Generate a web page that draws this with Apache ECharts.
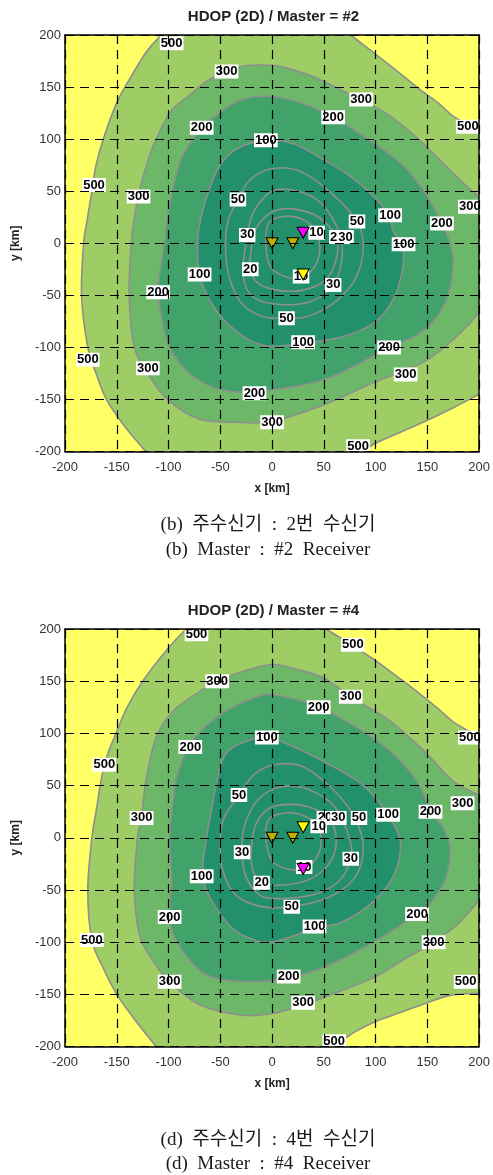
<!DOCTYPE html>
<html><head><meta charset="utf-8">
<script src="https://cdn.jsdelivr.net/npm/echarts@6/dist/echarts.min.js"></script>
<style>html,body{margin:0;padding:0;background:#fff}#c{width:493px;height:1175px}</style>
</head><body><div id="c"></div>
<script>
// ---------------- data ----------------
const axisMin = -200, axisMax = 200, axisStep = 50;
const titles = ['HDOP (2D) / Master = #2', 'HDOP (2D) / Master = #4'];
const captionsKo = ['(b)  주수신기  :  2번  수신기', '(d)  주수신기  :  4번  수신기'];
const captionsEn = ['(b)  Master  :  #2  Receiver', '(d)  Master  :  #4  Receiver'];

// ---- panel (b): Master = #2 ----  contour paths in km
const m2_500_tl = [[-107,200],[-122,183],[-138,157],[-150,135],[-163,100],[-170,75],[-174,50],[-179,20],[-182,0],[-184,-50],[-178,-100],[-170,-125],[-160,-150],[-143,-175],[-122,-200]];
const m2_500_tr = [[76,200],[98,183],[120,166],[141,149],[160,135],[175,122],[190,113],[200,107]];
const m2_500_br = [[200,-145],[175,-158],[150,-170],[125,-181],[100,-192],[88,-200]];
const m2_300 = [[200,45],[190,53],[169,73],[150,92],[131,109],[110,125],[86,138],[67,147],[40,160],[15,168],[0,171],[-29,170],[-45,164],[-61,157],[-80,142],[-99,125],[-115,93],[-122,72],[-128,51],[-133,25],[-136,0],[-138,-50],[-133,-100],[-120,-125],[-101,-150],[-70,-169],[-29,-172],[0,-171],[50,-155],[100,-133],[129,-122],[150,-112],[170,-97],[188,-80],[200,-66]];
const m2_200 = [[0,141],[-29,138],[-51,125],[-67,111],[-87,83],[-96,51],[-101,25],[-104,0],[-108,-25],[-110,-47],[-106,-75],[-99,-100],[-80,-125],[-55,-139],[-29,-143],[0,-141],[50,-131],[85,-115],[113,-100],[140,-88],[158,-72],[170,-50],[175,-20],[172,0],[164,19],[150,45],[131,70],[110,88],[85,105],[59,121],[30,134]];
const m2_100 = [[-6,99],[-35,90],[-51,74],[-61,51],[-69,23],[-72,0],[-70,-30],[-60,-55],[-45,-75],[-22,-93],[0,-99],[30,-96],[67,-90],[98,-77],[117,-54],[126,-25],[126,-3],[117,12],[113,27],[98,45],[76,64],[50,80],[22,95]];
const m2_50 = [[-45,0],[-42,23],[-33,42],[-22,60],[-3,71],[25,70],[55,50],[82,21],[88,-5],[80,-35],[60,-57],[35,-70],[14,-72],[-10,-70],[-30,-57],[-42,-30]];
const m2_30 = [[-24,7],[-18,30],[0,50],[25,50],[48,38],[66,8],[67,-18],[59,-40],[40,-55],[10,-59],[-18,-52],[-28,-30]];
const m2_20 = [[-20,-5],[-15,15],[0,30],[20,33],[45,25],[62,6],[62,-15],[52,-35],[30,-45],[5,-45],[-14,-38],[-21,-25]];
const m2_10 = [[-6,0],[-3,20],[15,26],[33,21],[43,10],[46,-8],[40,-24],[28,-33],[12,-32],[-2,-22]];
const m2_labels = [['500',-97,192],['300',-44,165],['200',-68,111],['100',-6,99],['300',86,138],['200',59,121],['500',189,112],
  ['500',-172,56],['300',-129,45],['50',-33,42],['30',-24,8],['10',43,10],['20',63,6],['30',71,6],['50',82,21],['100',114,27],
  ['200',164,19],['300',191,35],['100',127,-1],['100',-70,-30],['20',-21,-25],['10',28,-32],['30',59,-40],['200',-110,-47],
  ['50',14,-72],['100',30,-95],['200',113,-100],['500',-178,-112],['300',-120,-120],['300',129,-126],['200',-17,-144],
  ['300',0,-172],['500',83,-195]];
const m2_rxOlive = [[0,0],[20,0]];
const m2_rxYellow = [[30,-30]];
const m2_rxMaster = [[30,10]];

// ---- panel (d): Master = #4 ----
const m4_500_tl = [[-83,200],[-100,182],[-125,150],[-140,125],[-150,102],[-162,70],[-170,25],[-174,0],[-178,-50],[-174,-98],[-163,-125],[-150,-150],[-132,-175],[-112,-200]];
const m4_500_tr = [[52,200],[75,186],[98,171],[120,155],[140,140],[160,124],[175,111],[190,102],[200,96]];
const m4_500_br = [[200,-149],[172,-151],[150,-158],[125,-167],[100,-176],[80,-186],[60,-200]];
const m4_300 = [[200,41],[175,54],[150,80],[115,111],[76,135],[50,153],[25,161],[2,166],[-23,161],[-53,150],[-70,140],[-96,121],[-112,96],[-122,54],[-126,19],[-130,0],[-133,-50],[-128,-93],[-115,-118],[-99,-138],[-70,-160],[-29,-170],[2,-168],[30,-160],[50,-153],[98,-134],[130,-115],[156,-100],[179,-83],[200,-60]];
const m4_200 = [[2,137],[-23,132],[-54,115],[-79,90],[-90,65],[-94,48],[-99,0],[-97,-40],[-99,-76],[-90,-103],[-64,-131],[-22,-138],[16,-134],[50,-124],[98,-100],[140,-73],[155,-60],[168,-38],[172,-10],[165,10],[153,25],[140,54],[115,82],[83,105],[45,125]];
const m4_100 = [[-5,96],[-29,91],[-45,80],[-52,60],[-58,30],[-64,-4],[-67,-37],[-58,-61],[-39,-86],[-22,-96],[0,-100],[41,-87],[67,-81],[98,-61],[118,-35],[124,-5],[115,17],[100,38],[83,54],[50,73],[19,88]];
const m4_50 = [[-50,0],[-46,20],[-32,41],[-18,60],[2,70],[30,68],[60,45],[80,19],[88,-10],[80,-38],[55,-57],[19,-66],[-10,-66],[-35,-55],[-48,-30]];
const m4_30 = [[-29,-14],[-27,10],[-15,35],[5,48],[30,48],[55,35],[67,19],[76,-5],[76,-20],[66,-40],[45,-53],[15,-58],[-10,-56],[-25,-38]];
const m4_20 = [[-20,-10],[-16,12],[-3,28],[18,32],[40,28],[55,18],[62,0],[57,-22],[40,-38],[15,-45],[-10,-43],[-19,-30]];
const m4_10 = [[-6,0],[-3,18],[15,24],[33,20],[45,11],[47,-8],[41,-22],[31,-30],[15,-30],[0,-22]];
const m4_labels = [['500',-73,195],['500',78,185],['300',-53,150],['300',76,135],['200',45,125],['200',-79,87],['100',-5,96],
  ['500',-162,70],['500',191,96],['50',-32,41],['300',-126,19],['20',51,19],['30',64,19],['50',84,19],['100',112,22],
  ['200',153,25],['300',184,33],['10',45,11],['30',-29,-14],['20',-10,-43],['100',-68,-37],['10',31,-28],['30',76,-20],
  ['50',19,-66],['100',41,-85],['200',-99,-76],['500',-174,-98],['200',140,-73],['300',156,-100],['200',16,-133],
  ['300',-99,-138],['500',187,-138],['300',30,-158],['500',60,-195]];
const m4_rxOlive = [[0,0],[20,0]];
const m4_rxYellow = [[30,10]];
const m4_rxMaster = [[30,-30]];

// ---------------- styling / layout ----------------
const C = {yellow:'#FFFF66', light:'#9DCD64', mid:'#6CB868', dark:'#41A26A', darkest:'#21906B', line:'#8E8E8E'};
const grids = [{left:65, top:35, width:417, height:416.5}, {left:65, top:629, width:417, height:417.5}];

const panels = [
  {fills:[{c:m2_500_tl, corners:[[axisMin,axisMin],[axisMin,axisMax]], col:C.yellow},
          {c:m2_500_tr, corners:[[axisMax,axisMax]], col:C.yellow},
          {c:m2_500_br, corners:[[axisMax,axisMin]], col:C.yellow},
          {c:m2_300, corners:[], col:C.mid},
          {c:m2_200, closed:true, col:C.dark},
          {c:m2_100, closed:true, col:C.darkest}],
   rings:[m2_50,m2_30,m2_20,m2_10], labels:m2_labels, olive:m2_rxOlive, yel:m2_rxYellow, master:m2_rxMaster},
  {fills:[{c:m4_500_tl, corners:[[axisMin,axisMin],[axisMin,axisMax]], col:C.yellow},
          {c:m4_500_tr, corners:[[axisMax,axisMax]], col:C.yellow},
          {c:m4_500_br, corners:[[axisMax,axisMin]], col:C.yellow},
          {c:m4_300, corners:[], col:C.mid},
          {c:m4_200, closed:true, col:C.dark},
          {c:m4_100, closed:true, col:C.darkest}],
   rings:[m4_50,m4_30,m4_20,m4_10], labels:m4_labels, olive:m4_rxOlive, yel:m4_rxYellow, master:m4_rxMaster}
];

function crPath(pts, closed) {
  const n = pts.length;
  let d = 'M' + pts[0][0] + ',' + pts[0][1];
  const segs = closed ? n : n - 1;
  for (let i = 0; i < segs; i++) {
    const p0 = pts[closed ? (i - 1 + n) % n : Math.max(i - 1, 0)];
    const p1 = pts[i], p2 = pts[(i + 1) % n];
    const p3 = pts[closed ? (i + 2) % n : Math.min(i + 2, n - 1)];
    const c1 = [p1[0] + (p2[0] - p0[0]) / 6, p1[1] + (p2[1] - p0[1]) / 6];
    const c2 = [p2[0] - (p3[0] - p1[0]) / 6, p2[1] - (p3[1] - p1[1]) / 6];
    d += ' C' + c1[0] + ',' + c1[1] + ' ' + c2[0] + ',' + c2[1] + ' ' + p2[0] + ',' + p2[1];
  }
  if (closed) d += ' Z';
  return d;
}

const xAxes = [], yAxes = [], series = [], graphics = [];
const tickFont = 'Liberation Sans';
panels.forEach((p, gi) => {
  const common = {gridIndex:gi, type:'value', min:axisMin, max:axisMax, interval:axisStep, z:10};
  xAxes.push(Object.assign({}, common, {position:'bottom',
    axisLine:{show:true, onZero:false, lineStyle:{color:'#000', width:1.5}}, axisTick:{show:false},
    axisLabel:{fontSize:13, color:'#333', margin:9, fontFamily:tickFont},
    splitLine:{show:true, lineStyle:{color:'#000', width:1.2, type:[9,6]}},
    name:'x [km]', nameLocation:'middle', nameGap:31,
    nameTextStyle:{fontSize:12, fontWeight:'bold', color:'#222', fontFamily:tickFont}}));
  xAxes.push(Object.assign({}, common, {position:'top',
    axisLine:{show:true, onZero:false, lineStyle:{color:'#000', width:1.5}}, axisTick:{show:false},
    axisLabel:{show:false}, splitLine:{show:false}}));
  yAxes.push(Object.assign({}, common, {position:'left',
    axisLine:{show:true, onZero:false, lineStyle:{color:'#000', width:1.5}}, axisTick:{show:false},
    axisLabel:{fontSize:13, color:'#333', margin:4, fontFamily:tickFont},
    splitLine:{show:true, lineStyle:{color:'#000', width:1.2, type:[9,6]}},
    name:'y [km]', nameLocation:'middle', nameGap:43, nameRotate:90,
    nameTextStyle:{fontSize:12, fontWeight:'bold', color:'#222', fontFamily:tickFont}}));
  yAxes.push(Object.assign({}, common, {position:'right',
    axisLine:{show:true, onZero:false, lineStyle:{color:'#000', width:1.5}}, axisTick:{show:false},
    axisLabel:{show:false}, splitLine:{show:false}}));
  const xi = gi * 2, yi = gi * 2;

  // filled contour bands
  series.push({type:'custom', xAxisIndex:xi, yAxisIndex:yi, clip:true, z:1, silent:true,
    data:p.fills.map((f, i) => [0, 0, i]),
    renderItem:(params, api) => {
      const f = p.fills[params.dataIndex];
      const px = f.c.map(q => api.coord(q));
      const curve = crPath(px, !!f.closed);
      let fillD = curve;
      if (!f.closed) {
        fillD += f.corners.map(c => { const k = api.coord(c); return ' L' + k[0] + ',' + k[1]; }).join('') + ' Z';
      }
      return {type:'group', children:[
        {type:'path', shape:{pathData:fillD}, style:{fill:f.col, stroke:null}},
        {type:'path', shape:{pathData:curve}, style:{fill:null, stroke:C.line, lineWidth:1.6}}
      ]};
    }});
  // inner contour lines
  series.push({type:'custom', xAxisIndex:xi, yAxisIndex:yi, clip:true, z:1, silent:true,
    data:p.rings.map((r, i) => [0, 0, i]),
    renderItem:(params, api) => {
      const px = p.rings[params.dataIndex].map(q => api.coord(q));
      return {type:'path', shape:{pathData:crPath(px, true)}, style:{fill:null, stroke:C.line, lineWidth:1.6}};
    }});
  // contour labels
  series.push({type:'custom', xAxisIndex:xi, yAxisIndex:yi, clip:true, z:2, silent:true,
    data:p.labels.map(l => [l[1], l[2]]),
    renderItem:(params, api) => {
      const pt = api.coord([api.value(0), api.value(1)]);
      return {type:'text', x:pt[0], y:pt[1], style:{text:p.labels[params.dataIndex][0], fill:'#000',
        font:'bold 13px "Liberation Sans", Arial', align:'center', verticalAlign:'middle',
        backgroundColor:'#fff', padding:[1,1,0,1]}};
    }});
  // receivers
  const tri = (data, col) => ({type:'scatter', xAxisIndex:xi, yAxisIndex:yi, z:3, silent:true,
    symbol:'triangle', symbolRotate:180, symbolSize:[12,11], data:data,
    itemStyle:{color:col, borderColor:'#000', borderWidth:1, opacity:1}});
  series.push(tri(p.olive, '#BDB000'));
  series.push(tri(p.yel, '#FFFF00'));
  series.push(tri(p.master, '#FF00FF'));

  const g = grids[gi];
  graphics.push({type:'text', x:g.left + g.width / 2, y:gi === 0 ? 16.5 : 611,
    style:{text:titles[gi], font:'bold 15px "Liberation Sans", Arial', fill:'#222', align:'center', verticalAlign:'middle'}});
});
const capY = [[525, 550], [1140, 1164]];
[0, 1].forEach(i => {
  graphics.push({type:'text', x:268, y:capY[i][0],
    style:{text:captionsKo[i], font:'19px "Liberation Serif", "Noto Sans CJK KR"', fill:'#1a1a1a', align:'center', verticalAlign:'middle'}});
  graphics.push({type:'text', x:268, y:capY[i][1],
    style:{text:captionsEn[i], font:'19px "Liberation Serif", "Noto Sans CJK KR"', fill:'#1a1a1a', align:'center', verticalAlign:'middle'}});
});

const chart = echarts.init(document.getElementById('c'), null, {renderer:'canvas'});
chart.setOption({
  backgroundColor:'#fff', animation:false,
  grid:grids.map(g => Object.assign({show:true, backgroundColor:C.light, borderWidth:0, containLabel:false}, g)),
  xAxis:xAxes, yAxis:yAxes, series:series, graphic:graphics
});
</script></body></html>
